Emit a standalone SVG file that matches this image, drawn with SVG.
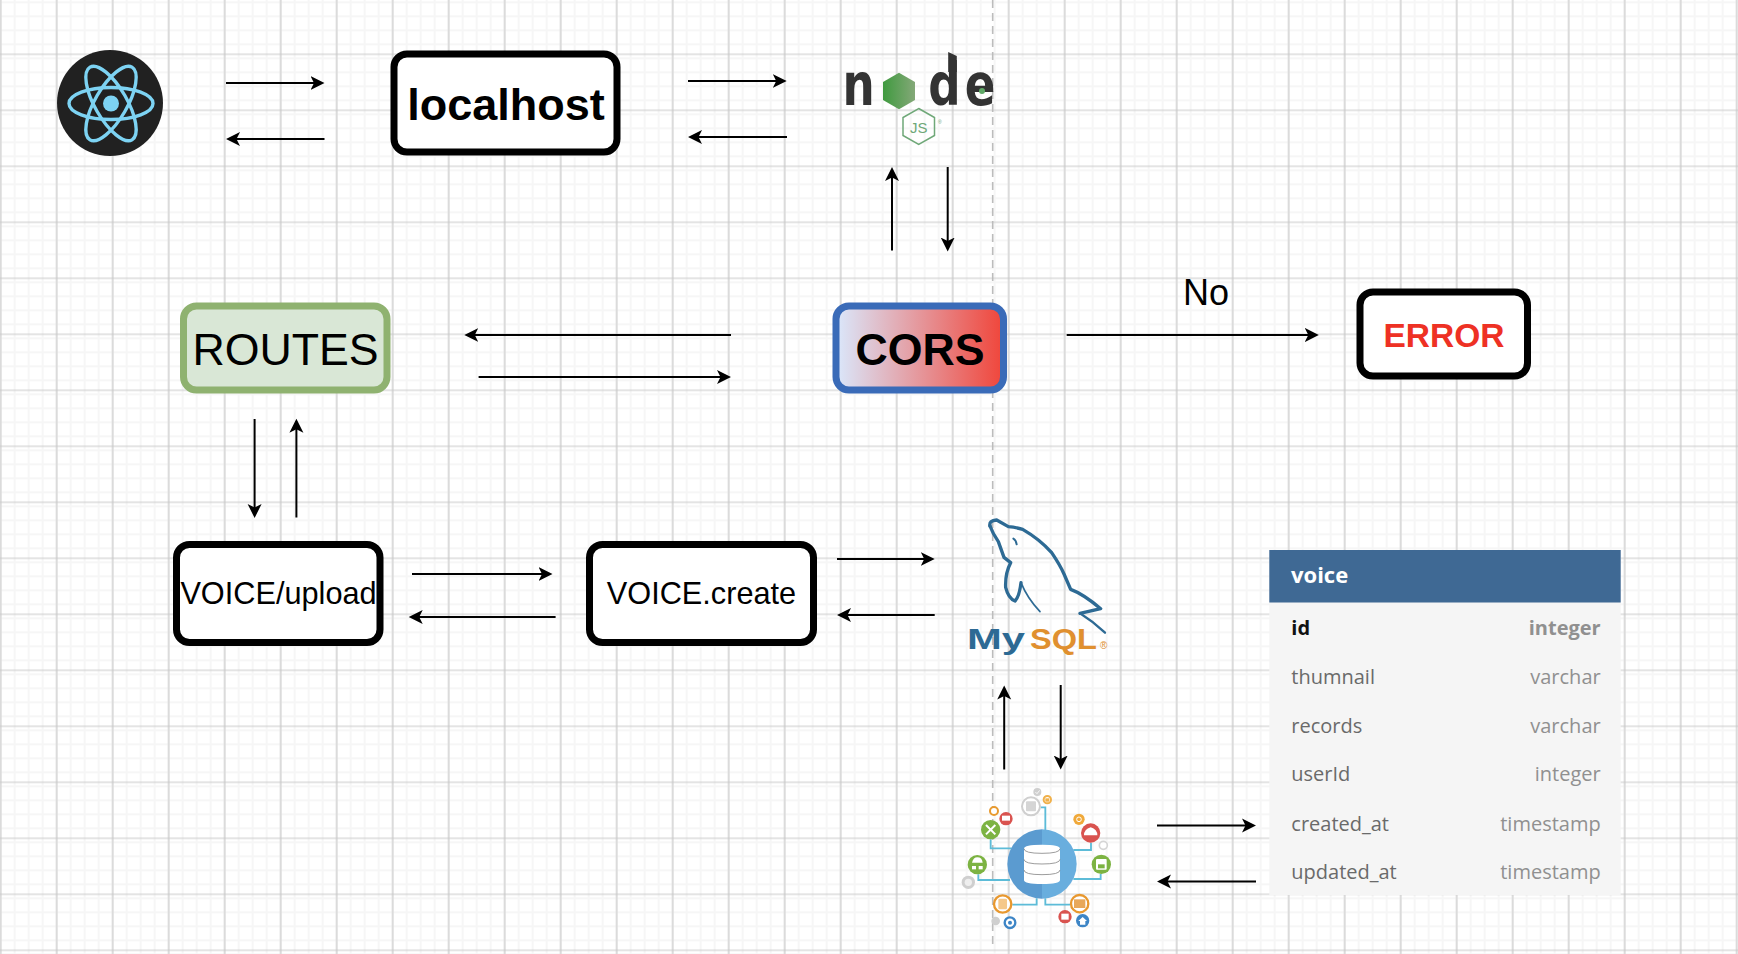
<svg xmlns="http://www.w3.org/2000/svg" width="1738" height="954" viewBox="0 0 1738 954">
<style>
text{font-family:"Liberation Sans",Arial,sans-serif}
.box{fill:#fff;stroke:#000;stroke-width:7}
.c{stroke:#000;stroke-width:2;fill:none;marker-end:url(#ah)}
.m{text-anchor:middle}
.b{font-weight:700}
.t{font-family:"Open Sans","Liberation Sans",sans-serif;font-size:20px}
.tl{fill:#6a6a6a}
.tr{fill:#909090;text-anchor:end}
.link{fill:none;stroke:#5dbcd8;stroke-width:5.5}
.ig{fill:#fff}
.sql{font-size:29px;font-weight:700}
</style>
<defs>
<pattern id="minor" x="-0.3" y="1.3" width="14" height="14" patternUnits="userSpaceOnUse">
<path d="M1 0V14M0 1H14" stroke="#f6f6f6" stroke-width="2" fill="none"/>
</pattern>
<pattern id="major" x="-0.3" y="53.3" width="56" height="56" patternUnits="userSpaceOnUse">
<path d="M1 0V56M0 1H56" stroke="#c9c9c9" stroke-width="1.2" fill="none"/>
</pattern>
<marker id="ah" viewBox="0 -8 15 16" refX="11" refY="0" markerWidth="15" markerHeight="16" markerUnits="userSpaceOnUse" orient="auto">
<path d="M0 -7L14 0L0 7L3.5 0Z" fill="#000"/>
</marker>
<linearGradient id="cg" x1="0" x2="1" y1="0" y2="0">
<stop offset="0" stop-color="#dae8fc"/><stop offset="1" stop-color="#f0453a"/>
</linearGradient>
<linearGradient id="ng" x1="0" x2="1" y1="0" y2="0">
<stop offset="0" stop-color="#3f9a3f"/><stop offset="1" stop-color="#84a878"/>
</linearGradient>
</defs>

<g id="grid">
<rect width="1738" height="954" fill="#fff"/>
<rect width="1738" height="954" fill="url(#minor)"/>
<rect width="1738" height="954" fill="url(#major)"/>
<line x1="992.7" y1="0" x2="992.7" y2="948" stroke="#bcbcbc" stroke-width="1.6" stroke-dasharray="8 5"/>
</g>

<g id="connectors">
<line class="c" x1="226" y1="83" x2="321.5" y2="83"/>
<line class="c" x1="324.5" y1="139" x2="229" y2="139"/>
<line class="c" x1="688" y1="81" x2="783.7" y2="81"/>
<line class="c" x1="787" y1="137" x2="691" y2="137"/>
<line class="c" x1="892" y1="250.5" x2="892" y2="170"/>
<line class="c" x1="947.7" y1="167" x2="947.7" y2="248.5"/>
<line class="c" x1="731" y1="335" x2="467.3" y2="335"/>
<line class="c" x1="478.6" y1="377" x2="728" y2="377"/>
<line class="c" x1="1066.7" y1="335" x2="1315.8" y2="335"/>
<line class="c" x1="254.6" y1="419" x2="254.6" y2="515"/>
<line class="c" x1="296.4" y1="517.5" x2="296.4" y2="421.7"/>
<line class="c" x1="412" y1="574" x2="549.5" y2="574"/>
<line class="c" x1="555.6" y1="617" x2="411.7" y2="617"/>
<line class="c" x1="837" y1="559" x2="931.7" y2="559"/>
<line class="c" x1="934.7" y1="615" x2="840" y2="615"/>
<line class="c" x1="1004.2" y1="769.5" x2="1004.2" y2="688.5"/>
<line class="c" x1="1060.7" y1="685" x2="1060.7" y2="766.5"/>
<line class="c" x1="1157" y1="825.5" x2="1253" y2="825.5"/>
<line class="c" x1="1256" y1="881.5" x2="1160" y2="881.5"/>
</g>

<g id="react">
<circle cx="110" cy="103" r="53" fill="#212121"/>
<g fill="none" stroke="#7dd3f3" stroke-width="3.4">
<ellipse cx="111" cy="103.5" rx="42" ry="16"/>
<ellipse cx="111" cy="103.5" rx="42" ry="16" transform="rotate(60 111 103.5)"/>
<ellipse cx="111" cy="103.5" rx="42" ry="16" transform="rotate(120 111 103.5)"/>
</g>
<circle cx="111" cy="103.5" r="8" fill="#7dd3f3"/>
</g>

<g id="localhost">
<rect class="box" x="394" y="54" width="223" height="98" rx="13"/>
<text class="m b" x="506" y="119.5" font-size="45">localhost</text>
</g>

<g id="nodejs">
<text transform="translate(0 105) scale(.78 1)" y="0" font-size="58" font-weight="700" fill="#333" style="font-family:'DejaVu Sans',sans-serif"><tspan x="1080">n</tspan><tspan x="1190">d</tspan><tspan x="1237">e</tspan></text>
<polygon points="948.2,52 956.8,56 956.8,72 948.2,72" fill="#333"/>
<path d="M899 72.7L915 82V100L899 109.3L883 100V82Z" fill="url(#ng)"/>
<circle cx="982" cy="91" r="3" fill="#5fa866"/>
<path d="M918.7 108.5L934.5 117.5V135.5L918.7 144.5L903 135.5V117.5Z" fill="none" stroke="#6fa878" stroke-width="1.5"/>
<text class="m" x="918.7" y="132.5" font-size="15" fill="#6fa878">JS</text>
<text x="938" y="124" font-size="5" fill="#6fa878">®</text>
</g>

<g id="routes">
<rect x="183.5" y="306" width="203.5" height="84" rx="13" fill="#d9e7d6" stroke="#8fb270" stroke-width="7"/>
<text class="m" x="285.5" y="364.5" font-size="44.7">ROUTES</text>
</g>

<g id="cors">
<rect x="836" y="306" width="167.5" height="84" rx="13" fill="url(#cg)" stroke="#3a6bb8" stroke-width="7"/>
<text class="m b" x="920" y="365" font-size="44.7">CORS</text>
</g>

<g id="no-label">
<text class="m" x="1206" y="305" font-size="36">No</text>
</g>

<g id="error">
<rect class="box" x="1360" y="292" width="167.5" height="84" rx="13"/>
<text class="m b" x="1444" y="346.5" font-size="33.5" fill="#ee3124">ERROR</text>
</g>

<g id="voice-upload">
<rect class="box" x="176.5" y="544.5" width="203.5" height="98" rx="13"/>
<text class="m" x="278.5" y="604" font-size="30.7">VOICE/upload</text>
</g>

<g id="voice-create">
<rect class="box" x="589.5" y="544.5" width="224" height="98" rx="13"/>
<text class="m" x="701.5" y="604" font-size="30.7">VOICE.create</text>
</g>

<g id="mysql">
<g transform="translate(940 500) scale(.33333)" fill="none" stroke="#2d6a94" stroke-linejoin="round" stroke-linecap="round">
<path stroke-width="10" d="M150 78Q146 62 170 60L205 80Q228 82 248 88Q300 118 335 158Q360 195 372 222L392 268Q430 282 482 326L420 340"/>
<path stroke-width="7" d="M420 340Q460 365 495 398"/>
<path stroke-width="10" d="M150 78Q158 100 175 125L192 172L212 188Q195 220 197 262Q205 295 225 303Q238 290 243 248"/>
<path stroke-width="5" d="M243 248Q262 295 300 335"/>
<path stroke-width="6" d="M220 116Q228 120 230 133"/>
</g>
<text class="sql" x="967" y="649" fill="#2d6a94" textLength="58" lengthAdjust="spacingAndGlyphs">My</text>
<text class="sql" x="1030" y="649" fill="#e0902f" textLength="67" lengthAdjust="spacingAndGlyphs">SQL</text>
<text x="1100" y="649" font-size="10" fill="#e0902f">®</text>
</g>

<g id="database">
<g transform="translate(940 770) scale(.33333)">
<path class="link" d="M302 112H316V185M152 208V235H215M115 313V330H210M217 404H290V385M390 404H316V385M453 218V240H400M482 312V327H400"/>
<path d="M306 178A104 104 0 0 0 306 386Z" fill="#5b9bd0"/>
<path d="M306 178A104 104 0 0 1 306 386Z" fill="#69aede"/>
<path d="M252 236Q252 224 306 224Q360 224 360 236V330Q360 342 306 342Q252 342 252 330Z" fill="#fff"/>
<path d="M252 236Q252 250 306 250Q360 250 360 236M252 268Q252 282 306 282Q360 282 360 268M252 300Q252 314 306 314Q360 314 360 300" fill="none" stroke="#888" stroke-width="2.5"/>
<circle cx="273" cy="109" r="27" fill="#fff" stroke="#cfcfcf" stroke-width="6"/><rect x="258" y="94" width="30" height="30" rx="3" fill="#d5d5d5"/>
<circle cx="292" cy="66" r="12" fill="#cfcfcf"/><path d="M286 66L291 71L299 61" stroke="#fff" stroke-width="2.5" fill="none"/>
<circle cx="322" cy="89" r="11" fill="#fff" stroke="#f0b04a" stroke-width="6"/><rect x="316" y="85" width="12" height="10" fill="#f0b04a"/>
<circle cx="162" cy="123" r="12" fill="#fff" stroke="#e89a2f" stroke-width="6"/>
<circle cx="198" cy="146" r="20" fill="#d9534f"/><rect x="186" y="137" width="24" height="15" class="ig"/>
<circle cx="152" cy="179" r="29" fill="#7cb342"/><path d="M138 165L166 193M166 165L138 193" stroke="#fff" stroke-width="6"/>
<circle cx="112" cy="284" r="29" fill="#7cb342"/><path d="M96 278Q100 262 112 262Q126 262 128 278Z" class="ig"/><rect x="96" y="288" width="12" height="10" class="ig"/><rect x="116" y="288" width="12" height="10" class="ig"/>
<circle cx="85" cy="337" r="20" fill="#cfcfcf"/><circle cx="85" cy="337" r="11" fill="#eee"/>
<circle cx="188" cy="402" r="26" fill="#fff" stroke="#e8982f" stroke-width="7"/><rect x="175" y="386" width="26" height="32" rx="4" fill="#f5c88a"/>
<circle cx="167" cy="453" r="13" fill="#cfcfcf"/>
<circle cx="210" cy="458" r="16" fill="#fff" stroke="#3d85c6" stroke-width="7"/><circle cx="210" cy="458" r="6" fill="#3d85c6"/>
<circle cx="419" cy="401" r="26" fill="#fff" stroke="#e8982f" stroke-width="7"/><rect x="402" y="388" width="34" height="26" fill="#e8a85a"/>
<circle cx="375" cy="440" r="20" fill="#d9534f"/><rect x="364" y="431" width="22" height="18" class="ig"/>
<circle cx="428" cy="452" r="20" fill="#3d85c6"/><path d="M415 453L428 441L441 453H436V464H420V453Z" class="ig"/>
<circle cx="417" cy="148" r="17" fill="#f0a93a"/><circle cx="417" cy="148" r="7" fill="none" stroke="#fff" stroke-width="3"/>
<circle cx="452" cy="189" r="29" fill="#d9534f"/><path d="M432 196Q432 178 452 172Q472 178 472 196Z" fill="#fff"/>
<circle cx="490" cy="226" r="12" fill="#fff" stroke="#d5d5d5" stroke-width="5"/>
<circle cx="484" cy="283" r="29" fill="#7cb342"/><rect x="468" y="267" width="32" height="32" rx="3" class="ig"/><rect x="474" y="283" width="20" height="12" fill="#7cb342"/>
</g>
</g>

<g id="voice-table">
<rect x="1269.3" y="550" width="351.4" height="345" fill="#f5f5f5"/>
<rect x="1269.3" y="550" width="351.4" height="52.5" fill="#3f6994"/>
<text class="t" x="1291" y="583.3" style="font-size:22px;font-weight:700" fill="#fff">voice</text>
<text class="t" x="1291.3" y="635" style="font-weight:700" fill="#111">id</text>
<text class="t tr" x="1600.7" y="635" style="font-weight:700">integer</text>
<text class="t tl" x="1291.3" y="684.3">thumnail</text>
<text class="t tr" x="1600.7" y="684.3">varchar</text>
<text class="t tl" x="1291.3" y="732.7">records</text>
<text class="t tr" x="1600.7" y="732.7">varchar</text>
<text class="t tl" x="1291.3" y="781">userId</text>
<text class="t tr" x="1600.7" y="781">integer</text>
<text class="t tl" x="1291.3" y="831">created_at</text>
<text class="t tr" x="1600.7" y="831">timestamp</text>
<text class="t tl" x="1291.3" y="879.3">updated_at</text>
<text class="t tr" x="1600.7" y="879.3">timestamp</text>
</g>
</svg>
